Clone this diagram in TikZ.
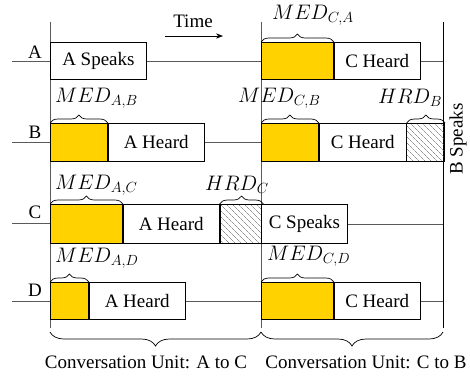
\documentclass[tikz,border=0pt]{standalone}
\usepackage{fix-cm}
\usepackage{fontspec}
\setmainfont{Liberation Serif}
\usetikzlibrary{arrows.meta, positioning, decorations.pathreplacing, patterns.meta}
\definecolor{medyellow}{RGB}{255,210,0}
\definecolor{lanegray}{RGB}{90,90,90}

\begin{document}
\begin{tikzpicture}[
    x=1pt, y=-1pt,
    font=\fontsize{19}{22}\selectfont,
    lane/.style={draw=lanegray, line width=0.8pt},
    slot/.style={draw, line width=0.8pt, fill=white, anchor=north west, inner sep=0pt},
    medbox/.style={slot, fill=medyellow},
    hrdbox/.style={slot, pattern={Lines[angle=-45, distance=4pt, line width=0.45pt]}, pattern color=black!65},
    brc/.style={decorate, decoration={brace, amplitude=#1}, line width=0.7pt},
    brc/.default=8pt,
    dlbl/.style={anchor=west, inner sep=0pt, font=\fontsize{21}{24}\selectfont}
]
\useasboundingbox (0,0) rectangle (470,376);

% time axes of the two units
\coordinate (t0) at (50,22);   \coordinate (b0) at (50,332);
\coordinate (t1) at (261,22);  \coordinate (b1) at (261,332);
\coordinate (t2) at (443,22);  \coordinate (b2) at (443,332);
\draw[lane] (t0) -- ([yshift=4]b0);
\draw[lane] (t1) -- ([yshift=4]b1);
\draw[lane, draw=black] (t2) -- ([yshift=4]b2);

% Time arrow
\node (time) at (193,21) {Time};
\coordinate (ts) at (165,36);
\coordinate (te) at (223,36);
\draw[-{Stealth[length=7pt]}, line width=0.7pt] (ts) -- (te);

% row labels and incoming lanes
\node (lA) at (35,52) {A};  \coordinate (sA) at (12,61);
\node (lB) at (35,132) {B}; \coordinate (sB) at (12,142);
\node (lC) at (35,212) {C}; \coordinate (sC) at (12,223);
\node (lD) at (35,290) {D}; \coordinate (sD) at (12,301);

% Row A
\node[slot, minimum width=96, minimum height=37] (aSpk) at (50,42) {A Speaks};
\node[medbox, minimum width=72, minimum height=37] (cMedA) at (261,42) {};
\node[slot, minimum width=86, minimum height=37] (cHrdA) at (cMedA.north east) {C Heard};

% Row B
\node[medbox, minimum width=57, minimum height=38] (aMedB) at (50,123) {};
\node[slot, minimum width=96, minimum height=38] (aHrdB) at (aMedB.north east) {A Heard};
\node[medbox, minimum width=57, minimum height=38] (cMedB) at (261,123) {};
\node[slot, minimum width=87, minimum height=38] (cHrdB) at (cMedB.north east) {C Heard};
\node[hrdbox, minimum width=38, minimum height=38] (hrdB) at (cHrdB.north east) {};

% Row C
\node[medbox, minimum width=72, minimum height=39] (aMedC) at (50,204) {};
\node[slot, minimum width=96, minimum height=39] (aHrdC) at (aMedC.north east) {A Heard};
\node[hrdbox, minimum width=43, minimum height=39] (hrdC) at (aHrdC.north east) {};
\node[slot, minimum width=86, minimum height=39] (cSpk) at (261,204) {C Speaks};

% Row D
\node[medbox, minimum width=38, minimum height=37] (aMedD) at (50,282) {};
\node[slot, minimum width=96, minimum height=37] (aHrdD) at (aMedD.north east) {A Heard};
\node[medbox, minimum width=72, minimum height=37] (cMedD) at (261,282) {};
\node[slot, minimum width=86, minimum height=37] (cHrdD) at (cMedD.north east) {C Heard};

% lanes between boxes
\draw[lane] (sA) -- (sA -| t0);
\draw[lane] (aSpk.east) -- (cMedA.west);
\draw[lane] (cHrdA.east) -- (cHrdA.east -| t2);
\draw[lane] (sB) -- (sB -| t0);
\draw[lane] (aHrdB.east) -- (cMedB.west);
\draw[lane] (sC) -- (sC -| t0);
\draw[lane] (cSpk.east) -- (cSpk.east -| t2);
\draw[lane] (sD) -- (sD -| t0);
\draw[lane] (aHrdD.east) -- (cMedD.west);
\draw[lane] (cHrdD.east) -- (cHrdD.east -| t2);

% delay braces
\draw[brc] (aMedB.north west) -- (aMedB.north east);
\draw[brc] (cMedA.north west) -- (cMedA.north east);
\draw[brc] (cMedB.north west) -- (cMedB.north east);
\draw[brc] (hrdB.north west) -- (hrdB.north east);
\draw[brc] (aMedC.north west) -- (aMedC.north east);
\draw[brc] (hrdC.north west) -- (hrdC.north east);
\draw[brc] (aMedD.north west) -- (aMedD.north east);
\draw[brc] (cMedD.north west) -- (cMedD.north east);

% delay labels
\node[dlbl] (mAB) at (55,98) {$MED_{A,B}$};
\node[dlbl] (mCA) at (272,15) {$MED_{C,A}$};
\node[dlbl] (mCB) at (238,98) {$MED_{C,B}$};
\node[dlbl] (hB) at (378,98) {$HRD_{B}$};
\node[dlbl] (mAC) at (55,185) {$MED_{A,C}$};
\node[dlbl] (hC) at (205,185) {$HRD_{C}$};
\node[dlbl] (mAD) at (55,258) {$MED_{A,D}$};
\node[dlbl] (mCD) at (267,256) {$MED_{C,D}$};

% B Speaks
\node[rotate=90] (bSpk) at (458,139) {B Speaks};

% conversation units
\draw[brc=14pt] (b1) -- (b0);
\draw[brc=14pt] (b2) -- (b1);
\node (cuA) at (146,362) {Conversation Unit: A to C};
\node (cuC) at (366,362) {Conversation Unit: C to B};
\end{tikzpicture}
\end{document}
